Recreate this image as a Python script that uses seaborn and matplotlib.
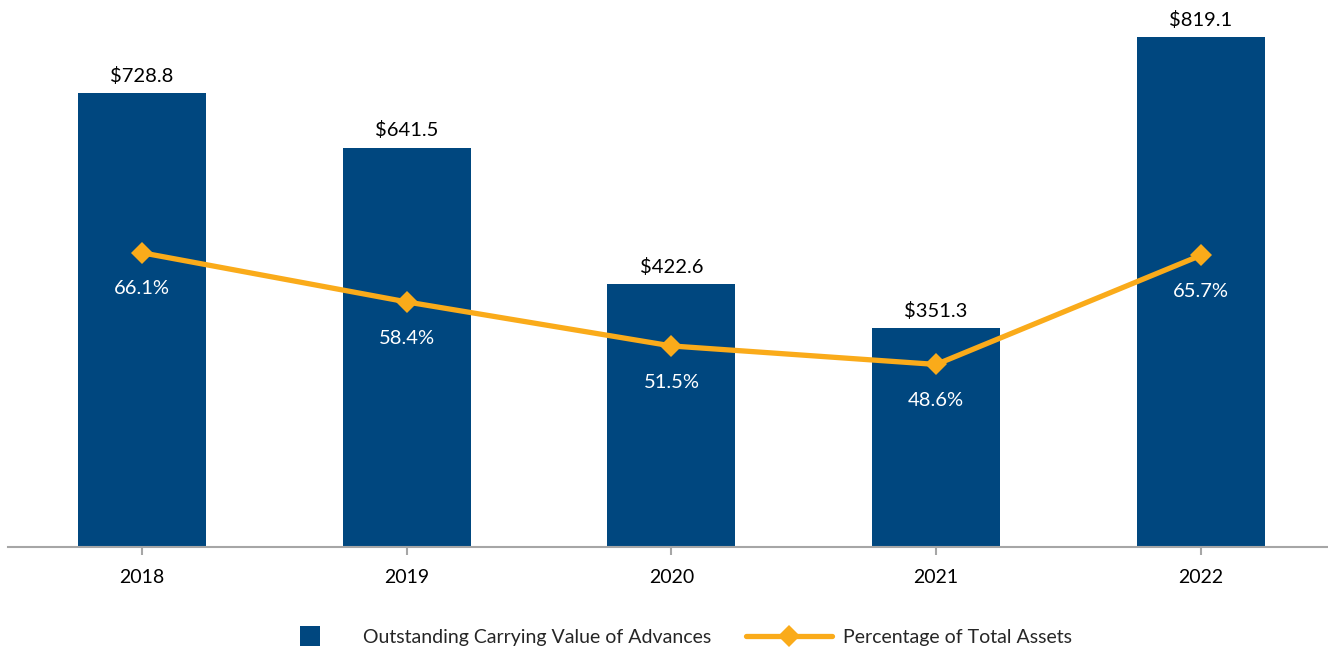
import numpy as np
import pandas as pd
import matplotlib
matplotlib.use("Agg")
import matplotlib.pyplot as plt
from matplotlib.lines import Line2D
import seaborn as sns

years = ["2018", "2019", "2020", "2021", "2022"]
advances = [728.8, 641.5, 422.6, 351.3, 819.1]
pct_assets = [66.1, 58.4, 51.5, 48.6, 65.7]

bar_color = "#00477F"
line_color = "#FAAB1A"
axis_gray = "#A6A6A6"

sns.set_theme(style="white")
plt.rcParams["font.family"] = ["Lato", "DejaVu Sans"]

df = pd.DataFrame({"year": years, "advances": advances, "pct": pct_assets})

fig = plt.figure(figsize=(13.28, 6.5), dpi=100)
ax = fig.add_axes([0.006, 0.1585, 0.994, 0.7855])

sns.barplot(data=df, x="year", y="advances", color=bar_color, width=0.484,
            saturation=1, linewidth=0, ax=ax)
ax.set_xlim(-0.506, 4.48)
ax.set_ylim(0, 820)
ax.set_xlabel("")
ax.set_ylabel("")
ax.set_yticks([])
for s in ["left", "right", "top"]:
    ax.spines[s].set_visible(False)
ax.spines["bottom"].set_color(axis_gray)
ax.spines["bottom"].set_linewidth(1.5)
ax.tick_params(axis="x", bottom=True, length=6, width=1.5, color=axis_gray,
               pad=9.5, labelsize=14, labelcolor="black")

for i, v in enumerate(advances):
    ax.annotate(f"${v:.1f}", (i, v), xytext=(0, 6), textcoords="offset points",
                ha="center", va="bottom", fontsize=14.5, color="black")

ax2 = ax.twinx()
ax2.set_ylim(20, 100)
ax2.set_yticks([])
for s in ["left", "right", "top", "bottom"]:
    ax2.spines[s].set_visible(False)
sns.lineplot(x=np.arange(len(years)), y=pct_assets, color=line_color,
             linewidth=3.8, marker="D", markersize=11, markeredgewidth=0,
             ax=ax2)
ax2.set_xlim(-0.506, 4.48)

for i, p in enumerate(pct_assets):
    ax2.annotate(f"{p:.1f}%", (i, p), xytext=(0, -26), textcoords="offset points",
                 ha="center", va="center", fontsize=14.5, color="white")

handles = [
    Line2D([], [], linestyle="none", marker="s", markersize=15,
           markerfacecolor=bar_color, markeredgewidth=0),
    Line2D([], [], color=line_color, linewidth=3.8, marker="D", markersize=11,
           markeredgewidth=0),
]
fig.legend(handles, ["Outstanding Carrying Value of Advances",
                     "Percentage of Total Assets"],
           loc="center", bbox_to_anchor=(0.504, 1 - 637 / 650), ncol=2,
           frameon=False, fontsize=14, handlelength=4.4, handletextpad=0.55,
           columnspacing=1.8)

fig.savefig("out.png", dpi=100)
